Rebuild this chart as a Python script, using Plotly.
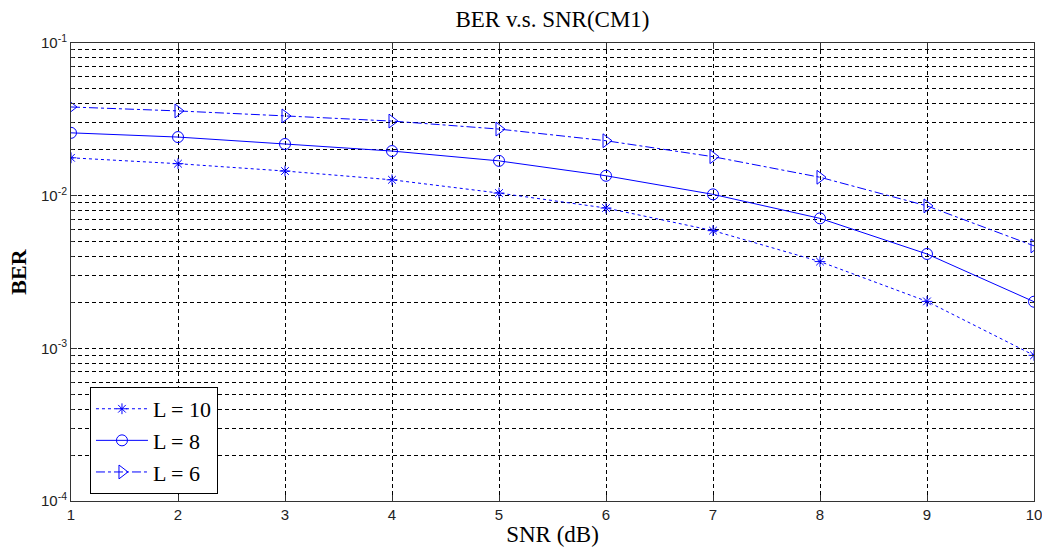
import plotly.graph_objects as go

snr = [1, 2, 3, 4, 5, 6, 7, 8, 9, 10]
ber_L10 = [0.0177, 0.0162, 0.0145, 0.0127, 0.0104, 0.0083, 0.0059, 0.0037, 0.00203, 0.00090]
ber_L8 = [0.0258, 0.0242, 0.0218, 0.0196, 0.0169, 0.0135, 0.0102, 0.0071, 0.00415, 0.00202]
ber_L6 = [0.0381, 0.0359, 0.0333, 0.0308, 0.0273, 0.0229, 0.0180, 0.0132, 0.00857, 0.00469]
names = ["L = 10", "L = 8", "L = 6"]

y_major = [1e-4, 1e-3, 1e-2, 1e-1]
y_major_text = ["10<sup>-4</sup>", "10<sup>-3</sup>", "10<sup>-2</sup>", "10<sup>-1</sup>"]
y_minor = [m * 10 ** e for e in (-4, -3, -2) for m in range(2, 10)]

blue = "#0000ff"
grid_dash = "4px,3px"
W, H = 1042, 554

fig = go.Figure()
fig.add_trace(go.Scatter(x=snr, y=ber_L10, name=names[0], mode="lines+markers",
                         line=dict(color=blue, width=1, dash="dot"),
                         marker=dict(symbol="asterisk-open", size=9, color=blue,
                                     line=dict(color=blue, width=1))))
fig.add_trace(go.Scatter(x=snr, y=ber_L8, name=names[1], mode="lines+markers",
                         line=dict(color=blue, width=1, dash="solid"),
                         marker=dict(symbol="circle-open", size=11, color=blue,
                                     line=dict(color=blue, width=1))))
fig.add_trace(go.Scatter(x=snr, y=ber_L6, name=names[2], mode="lines+markers",
                         line=dict(color=blue, width=1, dash="dashdot"),
                         marker=dict(symbol="triangle-right-open", size=12, color=blue,
                                     line=dict(color=blue, width=1))))

fig.update_layout(
    width=W, height=H,
    margin=dict(l=71, r=8, t=43, b=53, autoexpand=False),
    paper_bgcolor="white", plot_bgcolor="white",
    title=dict(text="BER v.s. SNR(CM1)", x=(71 + W - 8) / 2 / W, xanchor="center",
               y=1 - 19 / H, yanchor="middle",
               font=dict(family="Liberation Serif", size=23, color="black")),
    legend=dict(x=0.0197, y=0.249, xanchor="left", yanchor="top",
                bgcolor="white", bordercolor="black", borderwidth=1,
                font=dict(family="Liberation Serif", size=22, color="black"),
                itemwidth=52, tracegroupgap=0),
    showlegend=True,
)
fig.update_xaxes(
    range=[1, 10], tickvals=snr, ticks="inside", ticklen=6, tickcolor="#333",
    showline=True, linecolor="#333", linewidth=1, mirror="ticks",
    showgrid=True, gridcolor="black", griddash=grid_dash, gridwidth=1,
    zeroline=False, automargin=False, ticklabeloverflow="allow",
    tickfont=dict(family="Liberation Sans", size=15, color="#222"),
    title=dict(text="SNR (dB)", font=dict(family="Liberation Serif", size=23, color="black"), standoff=3),
)
fig.update_yaxes(
    type="log", range=[-4, -1], tickvals=y_major, ticktext=y_major_text,
    ticks="inside", ticklen=6, tickcolor="#333", automargin=False,
    showline=True, linecolor="#333", linewidth=1, mirror="ticks",
    showgrid=True, gridcolor="black", griddash=grid_dash, gridwidth=1,
    minor=dict(tickvals=y_minor, showgrid=True, gridcolor="black", griddash=grid_dash,
               gridwidth=1, ticks="inside", ticklen=3, tickcolor="#333"),
    tickfont=dict(family="Liberation Sans", size=15, color="#222"),
    title=dict(text="<b>BER</b>", font=dict(family="Liberation Serif", size=22, color="black"), standoff=8),
)
fig.write_html(
    "out.html",
    config={"displayModeBar": False},
    post_script="document.body.style.margin='0';document.body.style.overflow='hidden';",
)
